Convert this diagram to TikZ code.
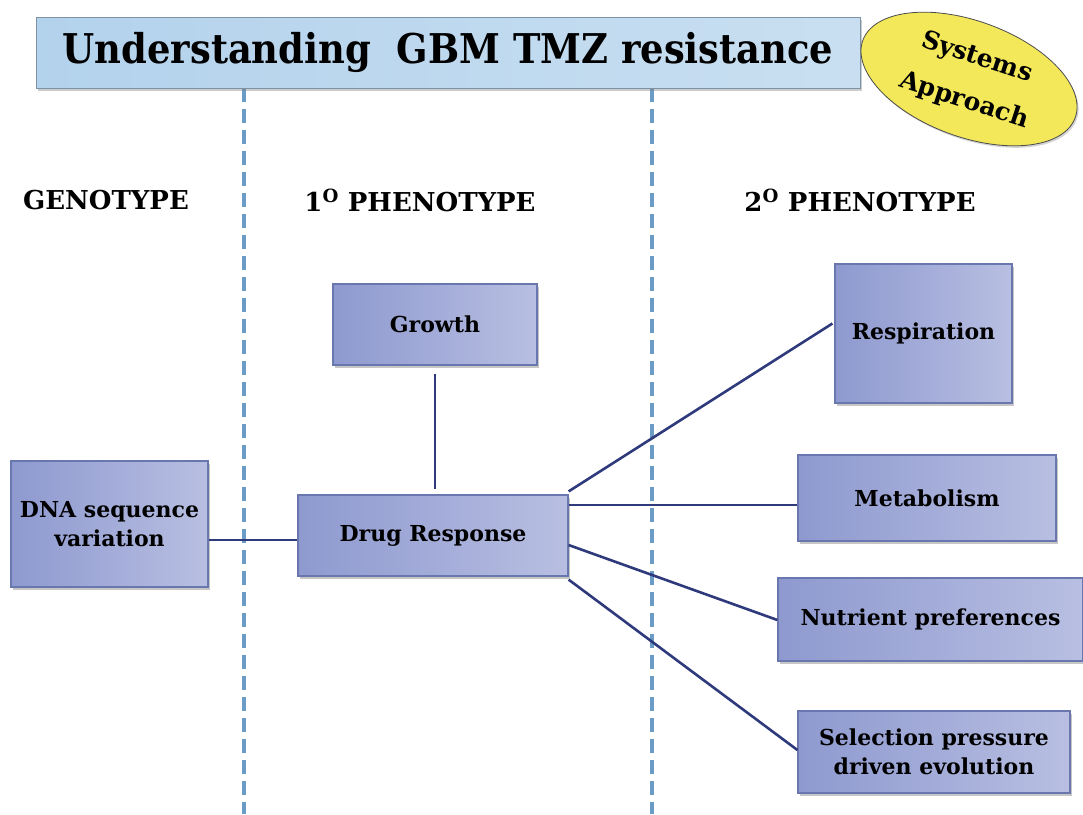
\documentclass[tikz,border=0pt]{standalone}
\usepackage{fontspec}
\setmainfont{DejaVu Serif}
\newfontfamily\condfont{DejaVu Serif Condensed}
\usetikzlibrary{shapes.geometric,shadows}
\definecolor{boxL}{HTML}{8E99CF}
\definecolor{boxR}{HTML}{B8BFE2}
\definecolor{boxB}{HTML}{6A76AE}
\definecolor{lineC}{HTML}{2E3A7C}
\definecolor{dashC}{HTML}{6B9CC6}
\definecolor{titleL}{HTML}{B3D2EC}
\definecolor{titleR}{HTML}{C9DFF1}
\definecolor{yel}{HTML}{F3E85A}
\tikzset{
  pbox/.style={draw=boxB, line width=1.2pt, left color=boxL, right color=boxR,
    drop shadow={opacity=0.45, shadow xshift=1.5pt, shadow yshift=-2.5pt},
    font=\fontsize{22}{29}\selectfont\bfseries, align=center, inner sep=0pt},
  conn/.style={draw=lineC, line width=2.6pt},
  divider/.style={draw=dashC, line width=3.2pt, dash pattern=on 14pt off 7pt},
  head/.style={font=\fontsize{26}{30}\selectfont\bfseries, anchor=center},
  systext/.style={rotate=-18, inner sep=1pt, font=\fontsize{25}{28}\selectfont\bfseries}
}
\begin{document}
\begin{tikzpicture}[x=1pt,y=-1pt]
\useasboundingbox (0,0) rectangle (1083,814);
% dividers
\coordinate (d1t) at (244,88); \coordinate (d1b) at (244,814);
\coordinate (d2t) at (652,88); \coordinate (d2b) at (652,814);
\draw[divider] (d1t) -- (d1b);
\draw[divider] (d2t) -- (d2b);
% title
\node[draw=titleL!70!black, line width=0.8pt, left color=titleL, right color=titleR,
  drop shadow={opacity=0.4, shadow xshift=1.5pt, shadow yshift=-3pt},
  minimum width=824pt, minimum height=71pt, inner sep=0pt,
  font=\condfont\fontsize{41}{44}\selectfont\bfseries] (title) at (448,52.5) {Understanding\ \ GBM TMZ resistance};
% ellipse
\node[ellipse, draw=black!70, line width=0.8pt, fill=yel, minimum width=226pt, minimum height=116pt,
  rotate=-20, drop shadow={opacity=0.35, shadow xshift=1.5pt, shadow yshift=-2pt}] (sys) at (969,79) {};
\node[systext] (sys1) at (977,58) {Systems};
\node[systext] (sys2) at (964,101) {Approach};
% headers
\node[head] (geno) at (106,200) {GENOTYPE};
\node[head] (p1) at (420,200) {1\textsuperscript{O} PHENOTYPE};
\node[head] (p2) at (860,200) {2\textsuperscript{O} PHENOTYPE};
% boxes
\node[pbox, minimum width=204pt, minimum height=81pt] (growth) at (435,324.5) {Growth};
\node[pbox, minimum width=197pt, minimum height=126pt] (dna) at (109.5,524) {DNA sequence\\variation};
\node[pbox, minimum width=270pt, minimum height=81pt] (drug) at (433,535.5) {Drug Response};
\node[pbox, minimum width=177pt, minimum height=139pt] (resp) at (923.5,333.5) {Respiration};
\node[pbox, minimum width=258pt, minimum height=86pt] (metab) at (927,498) {Metabolism};
\node[pbox, minimum width=305pt, minimum height=83pt] (nutr) at (930.5,619.5) {Nutrient preferences};
\node[pbox, minimum width=272pt, minimum height=82pt] (sel) at (934,752) {Selection pressure\\driven evolution};
% connectors
\draw[conn] (dna.east |- 0,540) -- (drug.west |- 0,540);
\draw[conn] ([yshift=-8pt]growth.south) -- ([yshift=5pt]drug.north -| growth.south);
\draw[conn] ([yshift=3pt]drug.north east) -- ([xshift=-2pt,yshift=10pt]resp.west);
\draw[conn] (drug.east |- 0,505) -- (metab.west |- 0,505);
\draw[conn] (drug.east |- 0,545) -- (nutr.west |- 0,620);
\draw[conn] ([yshift=-3pt]drug.south east) -- ([yshift=2pt]sel.west);
\end{tikzpicture}
\end{document}
